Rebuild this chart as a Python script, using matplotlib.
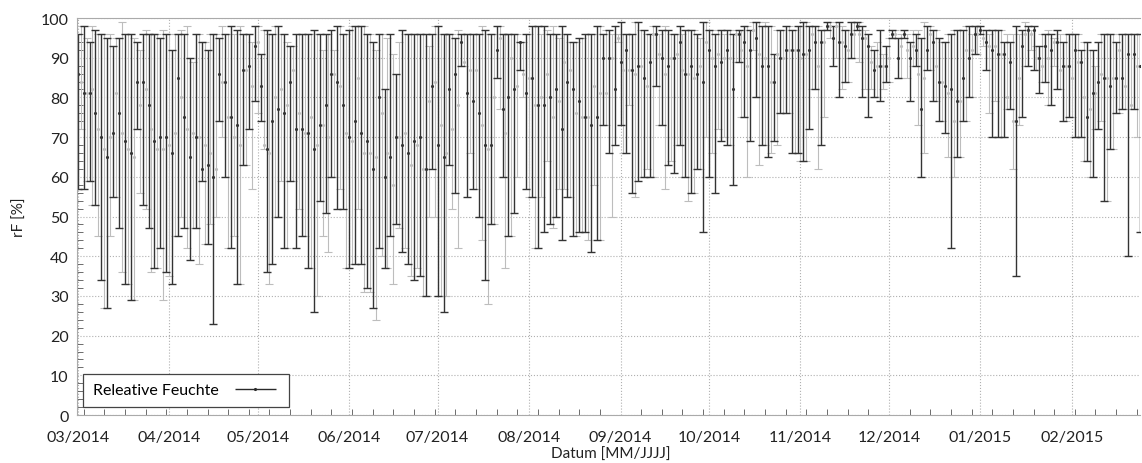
import numpy as np
import pandas as pd
import matplotlib
matplotlib.use("Agg")
import matplotlib.pyplot as plt
import matplotlib.dates as mdates
from matplotlib.ticker import MultipleLocator
from matplotlib.legend_handler import HandlerErrorbar

plt.rcParams['font.family'] = ['Lato', 'DejaVu Sans']

# daily relative humidity: max / min / mean per month
mar_max = [96,98,98,95,94,98,97,96,96,96,95,96,93,95,95,99,96,96,96,95,94,92,96,97,96,96,96,96,95,97,96]
mar_min = [57,72,57,59,59,53,53,45,34,27,27,45,55,55,47,36,33,33,29,29,72,56,53,52,47,36,37,37,42,29,36]
mar_mean = [86,84,81,81,81,82,76,72,70,67,65,70,71,81,76,71,69,67,66,65,84,78,84,82,78,72,69,67,70,67,70]

apr_max = [96,92,96,96,97,96,98,90,89,96,96,94,94,92,96,96,96,95,98,96,96,98,96,97,98,96,96,96,94,98]
apr_min = [35,33,45,45,50,47,42,39,47,47,38,59,43,43,48,23,50,74,70,60,42,42,45,33,33,63,63,72,57,79]
apr_mean = [68,66,71,85,80,75,72,65,71,70,70,62,68,63,66,60,62,86,84,84,75,75,70,73,68,87,87,88,83,93]

may_max = [98,91,97,97,96,96,98,98,96,96,94,93,93,96,96,96,96,96,96,97,96,96,92,96,96,97,92,98,98,96,96]
may_min = [76,74,67,36,33,38,50,50,59,42,42,59,59,42,52,45,45,37,37,26,30,54,45,51,41,60,60,52,57,52,37]
may_mean = [94,83,68,67,66,74,80,77,82,76,78,84,87,72,76,72,71,71,75,67,68,73,73,78,70,86,86,84,83,78,71]

jun_max = [97,98,98,98,98,98,96,96,94,92,96,96,82,95,96,91,86,94,97,96,96,96,96,96,96,96,96,93,96,98]
jun_min = [37,38,38,52,38,31,32,31,27,24,42,40,37,37,45,33,48,47,41,42,38,35,34,37,35,30,30,50,62,50]
jun_mean = [70,69,74,85,71,66,69,66,62,65,80,76,60,66,65,58,70,70,68,71,66,63,69,68,70,62,62,79,83,84]

jul_max = [98,96,96,96,96,96,95,97,96,96,96,96,96,96,96,98,97,96,96,96,98,98,96,96,96,96,96,96,94,94,96]
jul_min = [30,30,26,30,63,52,56,42,88,88,55,66,57,57,50,44,34,28,48,48,85,77,60,37,45,45,51,60,87,80,57]
jul_mean = [68,73,65,66,82,72,86,78,94,89,81,87,79,87,76,73,68,67,68,80,92,95,77,71,80,90,82,83,94,86,81]

aug_max = [96,98,98,98,96,98,97,96,98,96,95,98,96,96,94,94,94,95,95,96,96,96,96,98,98,96,97,97,96,98,96]
aug_min = [55,55,42,42,55,46,64,48,47,50,57,44,57,55,55,45,45,46,46,46,44,41,58,44,44,73,73,66,50,68,94]
aug_mean = [85,85,78,78,80,78,86,80,75,82,79,72,89,84,87,82,76,79,75,75,75,73,83,75,81,90,81,90,90,82,95]

sep_max = [99,96,96,96,96,99,99,97,97,96,96,98,98,96,97,98,97,96,96,96,98,96,97,97,97,97,96,95,99,99]
sep_min = [73,66,66,78,56,55,59,60,60,62,60,60,83,73,73,57,63,64,61,68,68,60,60,54,56,56,62,62,46,70]
sep_mean = [89,87,92,87,87,86,88,88,85,83,89,96,96,91,90,86,88,90,90,91,94,87,86,86,88,85,86,88,84,94]

oct_max = [97,97,96,97,97,96,97,97,96,97,97,97,98,98,97,99,99,99,98,99,98,98,91,97,97,97,98,98,97,97,98]
oct_min = [60,66,56,72,69,70,68,68,58,89,89,75,75,60,69,92,80,63,68,68,65,66,69,68,76,76,76,76,66,66,66]
oct_mean = [92,90,88,91,89,90,92,90,82,96,96,92,94,88,92,97,95,91,88,90,88,84,84,91,90,90,92,92,92,92,92]

nov_max = [98,99,99,98,98,98,98,97,97,99,99,98,99,99,98,97,97,99,99,99,99,98,97,96,93,92,94,97,91,93]
nov_min = [64,64,64,72,82,82,62,68,75,97,95,88,90,80,82,84,84,90,90,97,89,80,82,75,82,80,80,79,82,84]
nov_mean = [90,91,91,92,96,94,88,94,94,98,98,95,98,94,94,93,92,96,96,98,96,95,95,93,89,87,88,88,88,88]

dec_max = [95,97,97,95,96,97,96,94,97,96,97,95,99,98,98,97,97,95,94,94,96,96,97,97,97,97,98,98,96,98,98]
dec_min = [84,95,95,85,85,95,85,79,88,88,73,60,66,87,87,79,79,74,74,71,65,42,60,65,65,74,74,80,80,91,91]
dec_mean = [90,96,96,90,93,96,92,90,93,92,86,77,85,92,96,94,88,84,84,83,81,82,74,79,79,85,92,90,92,96,96]

jan_max = [98,97,97,96,97,97,97,97,94,96,94,96,98,96,97,99,98,97,98,93,93,96,96,97,96,95,97,96,94,96,96]
jan_min = [96,93,87,76,70,79,70,70,70,77,77,62,35,73,75,88,88,92,87,87,81,84,84,78,78,88,82,82,74,74,75]
jan_mean = [97,95,94,93,92,93,91,91,91,80,89,74,74,85,93,96,97,96,97,90,90,88,93,90,92,94,94,87,88,88,88]

feb_max = [96,96,96,92,94,94,92,92,88,94,96,96,96,96,96,94,96,96,96,96,96,96,96,96]
feb_min = [75,70,70,70,64,64,60,60,72,72,74,54,54,67,67,76,76,77,77,40,77,77,70,46]
feb_mean = [85,92,89,89,80,75,77,81,81,84,86,85,85,83,85,85,92,85,83,91,78,91,88,88]

rf_max = np.array(mar_max + apr_max + may_max + jun_max + jul_max + aug_max +
                  sep_max + oct_max + nov_max + dec_max + jan_max + feb_max, dtype=float)
rf_min = np.array(mar_min + apr_min + may_min + jun_min + jul_min + aug_min +
                  sep_min + oct_min + nov_min + dec_min + jan_min + feb_min, dtype=float)
rf_mean = np.array(mar_mean + apr_mean + may_mean + jun_mean + jul_mean + aug_mean +
                   sep_mean + oct_mean + nov_mean + dec_mean + jan_mean + feb_mean, dtype=float)
days = pd.date_range('2014-03-01', periods=len(rf_mean), freq='D')

fig = plt.figure(figsize=(11.42, 4.64), dpi=100)
ax = fig.add_axes([0.0674, 0.1034, 0.9306, 0.8556])

# alternate dark / light bars like the original print
for start, col, lw in [(1, '#bdbdbd', 0.8), (0, '#333333', 1.0)]:
    idx = np.arange(start, len(days), 2)
    ax.errorbar(days[idx], rf_mean[idx],
                yerr=[rf_mean[idx] - rf_min[idx], rf_max[idx] - rf_mean[idx]],
                fmt='.', color=col, ecolor=col, elinewidth=lw, capsize=3.0,
                capthick=lw, markersize=2.5)

ax.set_ylim(0, 100)
ax.set_xlim(pd.Timestamp('2014-02-28 18:00'), pd.Timestamp('2015-02-24 00:00'))
ax.yaxis.set_major_locator(MultipleLocator(10))
ax.yaxis.set_minor_locator(MultipleLocator(2))
ax.xaxis.set_major_locator(mdates.MonthLocator())
ax.xaxis.set_major_formatter(mdates.DateFormatter('%m/%Y'))
ax.xaxis.set_minor_locator(mdates.WeekdayLocator(byweekday=mdates.MO))
ax.tick_params(axis='y', which='major', length=0, labelsize=11.5, labelcolor='#222222', pad=6)
ax.tick_params(axis='x', which='major', length=0, labelsize=11.5, labelcolor='#222222', pad=11)
ax.tick_params(axis='both', which='minor', direction='in', length=4, color='#555555')
ax.grid(True, which='major', linestyle=':', color='#b0b0b0', linewidth=0.8)
for s in ['left', 'top', 'bottom']:
    ax.spines[s].set_color('#aaaaaa')
    ax.spines[s].set_linewidth(0.8)
ax.spines['right'].set_visible(False)

fig.text(0.535, 0.02, 'Datum [MM/JJJJ]', fontsize=11, color='#222222',
         ha='center', va='center')
ax.set_ylabel('rF [%]', fontsize=11, color='#222222', labelpad=10)

proxy = ax.errorbar([], [], xerr=[], fmt='.', color='#2a2a2a', elinewidth=1.0,
                    capsize=3.5, markersize=2.5)
leg = ax.legend([proxy], ['Releative Feuchte'], loc='lower left',
                bbox_to_anchor=(0.006, 0.02), borderaxespad=0, fontsize=11.5,
                markerfirst=False, handlelength=3.0, fancybox=False,
                framealpha=1, edgecolor='#444444', borderpad=0.6,
                handler_map={type(proxy): HandlerErrorbar(xerr_size=1.3)})
leg.get_frame().set_linewidth(0.9)

fig.savefig('out.png', dpi=100)
